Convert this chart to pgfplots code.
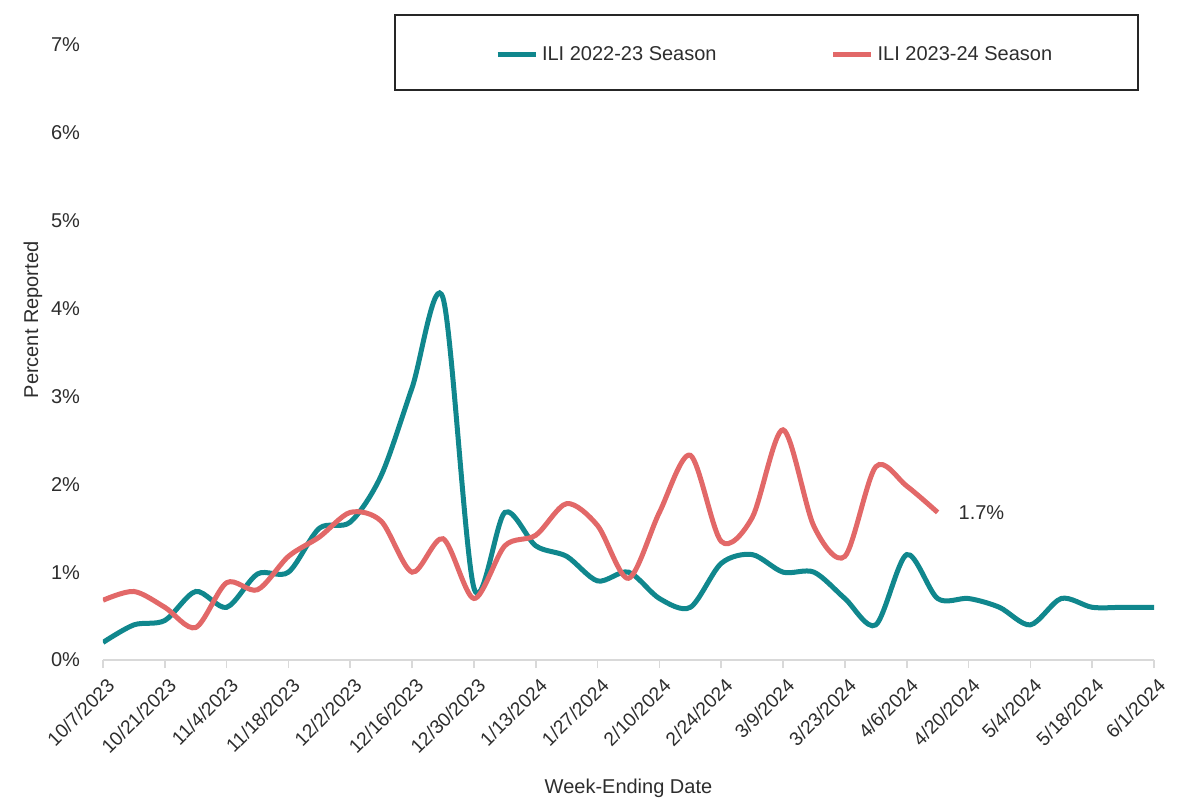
\documentclass[border=0pt]{standalone}
\usepackage{fontspec}
\setmainfont{Liberation Sans}
\usepackage{pgfplots}
\pgfplotsset{compat=1.18}
\definecolor{tealc}{RGB}{16,135,141}
\definecolor{redc}{RGB}{226,104,104}
\definecolor{txt}{RGB}{45,45,45}
\definecolor{axc}{RGB}{217,217,217}
\begin{document}
\begin{tikzpicture}
\begin{axis}[
  at={(0,0)}, anchor=south west,
  scale only axis, width=525.5pt, height=307.5pt,
  xmin=0, xmax=34, ymin=0, ymax=7,
  axis x line=bottom, axis y line=left,
  x axis line style={-, color=axc, line width=0.8pt},
  y axis line style={draw=none},
  xtick={0,2,...,34},
  xticklabels={10/7/2023,10/21/2023,11/4/2023,11/18/2023,12/2/2023,12/16/2023,12/30/2023,1/13/2024,1/27/2024,2/10/2024,2/24/2024,3/9/2024,3/23/2024,4/6/2024,4/20/2024,5/4/2024,5/18/2024,6/1/2024},
  ytick={0,1,...,7},
  yticklabels={0\%,1\%,2\%,3\%,4\%,5\%,6\%,7\%},
  tick align=outside, major tick length=4pt,
  xtick style={color=axc, line width=0.8pt},
  ytick style={draw=none},
  tick label style={font=\fontsize{10}{12}\selectfont, text=txt},
  xticklabel style={rotate=45, anchor=north east, inner sep=1pt, font=\fontsize{9.6}{12}\selectfont, xshift=-1pt, yshift=-3pt},
  yticklabel style={xshift=-4pt},
  xlabel={Week-Ending Date},
  ylabel={Percent Reported},
  label style={font=\fontsize{10}{12}\selectfont, text=txt},
  xlabel style={at={(axis description cs:0.5,0)}, anchor=center, yshift=-64pt},
  ylabel style={at={(axis description cs:-0.0666,0.553)}, anchor=center},
  legend columns=2,
  legend style={draw=none, fill=none, at={(axis description cs:0.640,0.984)}, anchor=center,
    font=\fontsize{10}{12}\selectfont, text=txt, inner sep=0pt,
    /tikz/every even column/.append style={column sep=55pt}},
  legend image code/.code={\draw[#1, line width=2.5pt] (0pt,0pt) -- (19pt,0pt);},
  legend cell align=left,
]
\addplot[tealc, line width=2.5pt, smooth, tension=0.5] coordinates {
(0,0.2)(1,0.4)(2,0.45)(3,0.78)(4,0.6)(5,0.98)(6,1.0)(7,1.5)(8,1.57)(9,2.1)(10,3.1)(11,4.12)(12,0.82)(13,1.68)(14,1.3)(15,1.18)(16,0.9)(17,1.0)(18,0.7)(19,0.6)(20,1.1)(21,1.2)(22,1.0)(23,1.0)(24,0.7)(25,0.4)(26,1.2)(27,0.7)(28,0.7)(29,0.6)(30,0.4)(31,0.7)(32,0.6)(33,0.6)(34,0.6)
};
\addlegendentry{ILI 2022-23 Season}
\addplot[redc, line width=2.5pt, smooth, tension=0.5] coordinates {
(0,0.68)(1,0.78)(2,0.6)(3,0.37)(4,0.88)(5,0.8)(6,1.18)(7,1.4)(8,1.68)(9,1.58)(10,1.0)(11,1.38)(12,0.7)(13,1.3)(14,1.42)(15,1.78)(16,1.53)(17,0.93)(18,1.68)(19,2.33)(20,1.35)(21,1.62)(22,2.62)(23,1.52)(24,1.18)(25,2.2)(26,1.98)(27,1.68)
};
\addlegendentry{ILI 2023-24 Season}
\node[anchor=west, text=txt, font=\fontsize{10}{12}\selectfont] at (axis cs:27,1.68) [xshift=7pt] {1.7\%};
\end{axis}
\draw[black!85, line width=0.6pt] (146pt,285pt) rectangle (517.5pt,322.5pt);
\pgfresetboundingbox
\useasboundingbox (-51.5pt,-70pt) rectangle (538pt,330pt);
\end{tikzpicture}
\end{document}
